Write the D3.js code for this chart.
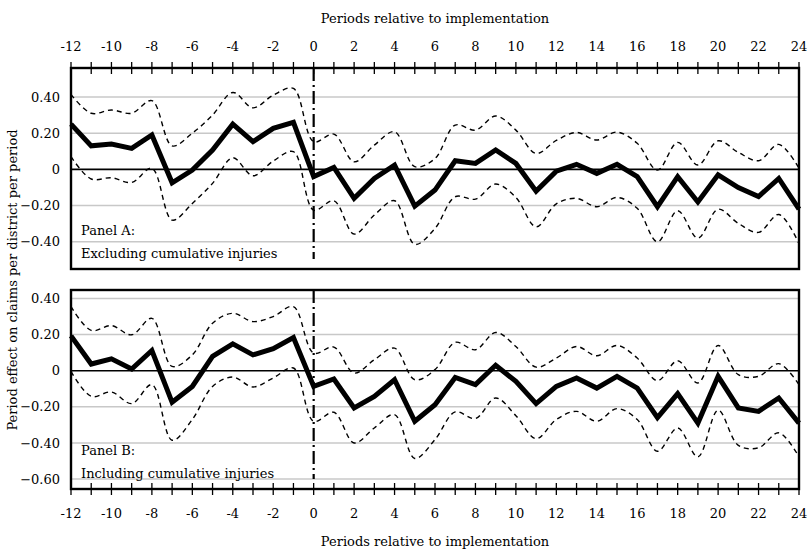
<!DOCTYPE html>
<html>
<head>
<meta charset="utf-8">
<script src="https://cdn.jsdelivr.net/npm/d3@7"></script>
<style>
  body { margin: 0; background: #fff; }
</style>
</head>
<body>
<div id="chart"></div>
<script>
// periods -12 .. 24
const periods = [-12,-11,-10,-9,-8,-7,-6,-5,-4,-3,-2,-1,0,1,2,3,4,5,6,7,8,9,10,11,12,13,14,15,16,17,18,19,20,21,22,23,24];
const xTicks = [-12,-10,-8,-6,-4,-2,0,2,4,6,8,10,12,14,16,18,20,22,24];

// Panel A: excluding cumulative injuries
const estA = [0.25,0.13,0.14,0.116,0.19,-0.074,-0.004,0.107,0.25,0.153,0.227,0.26,-0.04,0.011,-0.16,-0.05,0.024,-0.203,-0.114,0.048,0.033,0.107,0.033,-0.12,-0.01,0.028,-0.022,0.028,-0.04,-0.206,-0.04,-0.18,-0.03,-0.10,-0.15,-0.05,-0.22];
const upA = [0.414,0.31,0.328,0.31,0.38,0.13,0.2,0.30,0.425,0.34,0.41,0.447,0.153,0.195,0.042,0.134,0.208,0.015,0.06,0.245,0.217,0.295,0.217,0.088,0.16,0.204,0.162,0.206,0.144,-0.004,0.149,0.024,0.158,0.094,0.048,0.138,0.006];
const loA = [0.07,-0.053,-0.046,-0.072,0.006,-0.28,-0.188,-0.077,0.064,-0.035,0.046,0.098,-0.225,-0.173,-0.357,-0.252,-0.173,-0.414,-0.326,-0.151,-0.164,-0.081,-0.155,-0.317,-0.19,-0.16,-0.206,-0.155,-0.215,-0.40,-0.228,-0.38,-0.22,-0.298,-0.348,-0.249,-0.41];
const yTicksA = [-0.4,-0.2,0,0.2,0.4];

// Panel B: including cumulative injuries
const estB = [0.193,0.037,0.066,0.009,0.112,-0.175,-0.087,0.079,0.149,0.088,0.122,0.184,-0.087,-0.046,-0.206,-0.142,-0.05,-0.28,-0.188,-0.037,-0.077,0.03,-0.059,-0.182,-0.087,-0.04,-0.096,-0.031,-0.096,-0.26,-0.127,-0.29,-0.031,-0.206,-0.225,-0.151,-0.29];
const upB = [0.355,0.223,0.25,0.199,0.29,0.024,0.088,0.263,0.318,0.272,0.30,0.355,0.098,0.131,-0.013,0.061,0.125,-0.05,0.006,0.157,0.116,0.212,0.134,0.02,0.07,0.134,0.083,0.14,0.07,-0.055,0.055,-0.068,0.14,-0.022,-0.031,0.039,-0.077];
const loB = [-0.004,-0.142,-0.118,-0.182,-0.077,-0.385,-0.27,-0.087,-0.035,-0.09,-0.04,0.015,-0.28,-0.23,-0.40,-0.317,-0.243,-0.486,-0.381,-0.228,-0.265,-0.151,-0.249,-0.376,-0.27,-0.225,-0.28,-0.21,-0.27,-0.446,-0.317,-0.477,-0.219,-0.413,-0.427,-0.344,-0.477];
const yTicksB = [-0.6,-0.4,-0.2,0,0.2,0.4];

const W = 808, H = 553;
const svg = d3.select("#chart").append("svg")
    .attr("width", W)
    .attr("height", H)
    .attr("font-family", "'DejaVu Serif', serif");

const x = d3.scaleLinear().domain([-12, 24]).range([71, 799]);
const fmt = v => v === 0 ? "0" : d3.format(".2f")(v);

function drawPanel(top, bottom, yDomain, yTicks, est, up, lo, label1, label2, axisAt) {
    const y = d3.scaleLinear().domain(yDomain).range([bottom, top]);
    const g = svg.append("g");

    // grid lines
    g.selectAll(".grid")
        .data(yTicks.filter(d => d !== 0))
      .enter().append("line")
        .attr("x1", x(-12)).attr("x2", x(24))
        .attr("y1", d => y(d)).attr("y2", d => y(d))
        .style("stroke", "#c8c8c8")
        .style("stroke-width", 1.5);

    // zero line
    g.append("line")
        .attr("x1", x(-12)).attr("x2", x(24))
        .attr("y1", y(0)).attr("y2", y(0))
        .style("stroke", "#000")
        .style("stroke-width", 1.6);

    // y tick labels
    g.selectAll(".ylab")
        .data(yTicks)
      .enter().append("text")
        .attr("x", 60)
        .attr("y", d => y(d))
        .attr("dy", "0.35em")
        .attr("text-anchor", "end")
        .style("font-size", "13px")
        .text(fmt);

    // implementation line
    g.append("line")
        .attr("x1", x(0)).attr("x2", x(0))
        .attr("y1", top).attr("y2", bottom - 10)
        .style("stroke", "#000")
        .style("stroke-width", 2.2)
        .style("stroke-dasharray", "13,4,2,4");

    const pts = a => a.map((v, i) => ({ x: periods[i], y: v }));

    const ciLine = d3.line()
        .x(d => x(d.x))
        .y(d => y(d.y))
        .curve(d3.curveCatmullRom.alpha(0.5));

    [up, lo].forEach(arr => {
        g.append("path")
            .datum(pts(arr))
            .attr("d", ciLine)
            .style("fill", "none")
            .style("stroke", "#000")
            .style("stroke-width", 1.4)
            .style("stroke-dasharray", "5,4");
    });

    const estLine = d3.line()
        .x(d => x(d.x))
        .y(d => y(d.y));

    g.append("path")
        .datum(pts(est))
        .attr("d", estLine)
        .style("fill", "none")
        .style("stroke", "#000")
        .style("stroke-width", 5)
        .style("stroke-linejoin", "miter");

    // frame
    g.append("rect")
        .attr("x", x(-12)).attr("y", top)
        .attr("width", x(24) - x(-12))
        .attr("height", bottom - top)
        .style("fill", "none")
        .style("stroke", "#000")
        .style("stroke-width", 2.4);

    // axis ticks crossing the frame line
    const ay = axisAt === "top" ? top : bottom;
    g.selectAll(".tick")
        .data(periods)
      .enter().append("line")
        .attr("x1", d => x(d)).attr("x2", d => x(d))
        .attr("y1", ay - 6).attr("y2", ay + 6)
        .style("stroke", "#000")
        .style("stroke-width", 1.3);

    g.selectAll(".xlab")
        .data(xTicks)
      .enter().append("text")
        .attr("x", d => x(d))
        .attr("y", axisAt === "top" ? top - 22 : bottom + 24)
        .attr("dy", "0.35em")
        .attr("text-anchor", "middle")
        .style("font-size", "13px")
        .text(d => d);

    g.append("text")
        .attr("x", 81)
        .attr("y", bottom - 34)
        .style("font-size", "13px")
        .text(label1);
    g.append("text")
        .attr("x", 81)
        .attr("y", bottom - 11)
        .style("font-size", "13px")
        .text(label2);
}

drawPanel(68, 269, [-0.55, 0.56], yTicksA, estA, upA, loA,
    "Panel A:", "Excluding cumulative injuries", "top");
drawPanel(290, 489, [-0.655, 0.447], yTicksB, estB, upB, loB,
    "Panel B:", "Including cumulative injuries", "bottom");

// axis titles
svg.append("text")
    .attr("x", 435).attr("y", 18)
    .attr("dy", "0.35em")
    .attr("text-anchor", "middle")
    .style("font-size", "13px")
    .text("Periods relative to implementation");

svg.append("text")
    .attr("x", 435).attr("y", 541)
    .attr("dy", "0.35em")
    .attr("text-anchor", "middle")
    .style("font-size", "13px")
    .text("Periods relative to implementation");

svg.append("text")
    .attr("transform", "translate(12,280) rotate(-90)")
    .attr("dy", "0.35em")
    .attr("text-anchor", "middle")
    .style("font-size", "13px")
    .text("Period effect on claims per district per period");
</script>
</body>
</html>
